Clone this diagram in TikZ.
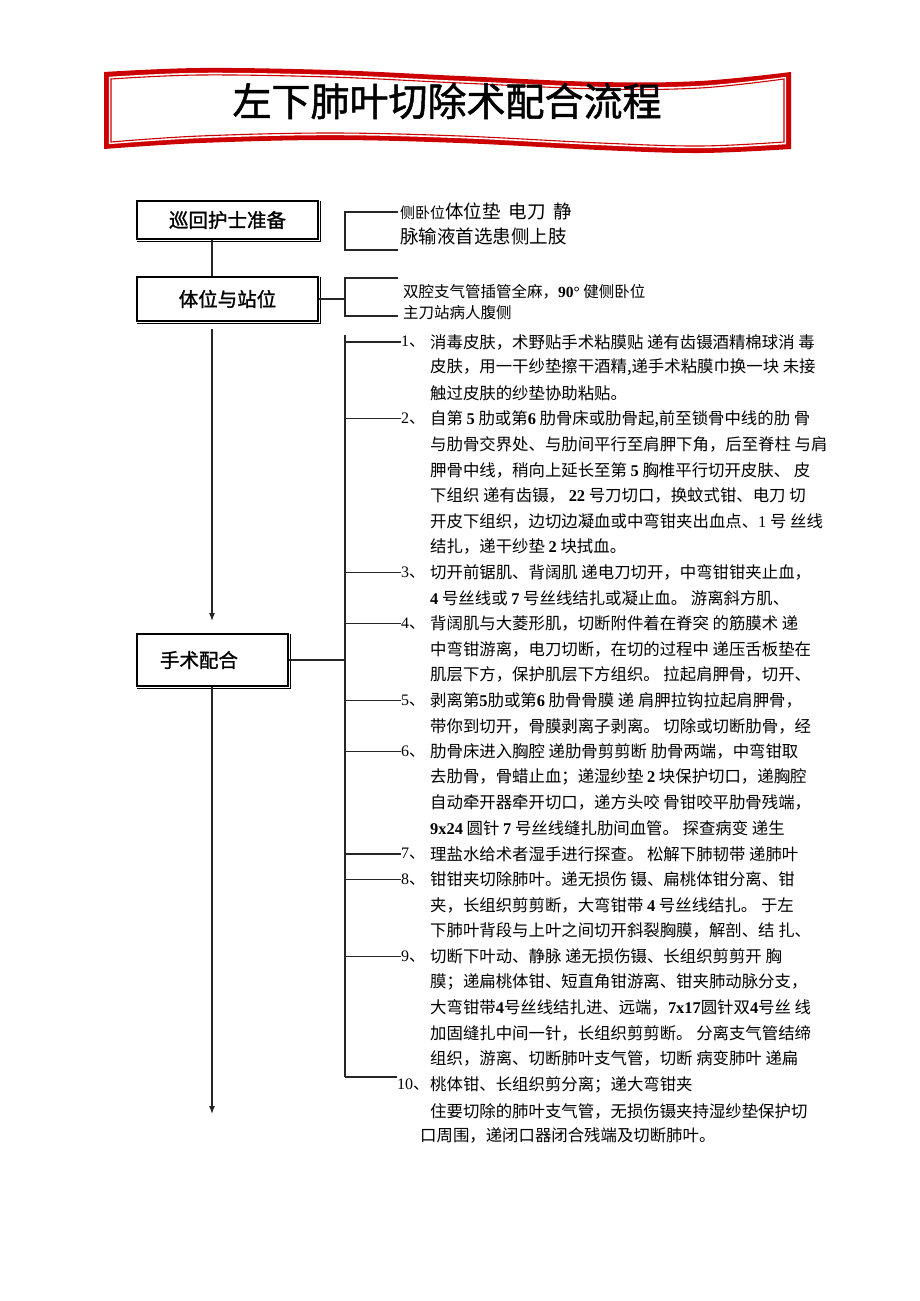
\documentclass[tikz,border=0pt]{standalone}
\usepackage{fontspec}
\usetikzlibrary{arrows.meta,calc}
\setmainfont{Liberation Serif}
\newfontfamily\cjk{Noto Sans CJK SC}
\newfontfamily\cjkm{Noto Sans CJK SC}[FakeBold=1.3]
\newfontfamily\serifen{Liberation Serif}
\newcommand\B[1]{{\serifen\bfseries #1}}
\newcommand\R[1]{{\serifen #1}}
\definecolor{bannerred}{RGB}{204,0,0}
\newcommand\bannerpath[1]{plot[smooth,tension=0.6] coordinates {(104+#1,72+#1) (200,68+#1) (330,70+#1) (460,76+#1) (600,82+#1) (700,81+#1) (791-#1,72+#1)} -- plot[smooth,tension=0.6] coordinates {(791-#1,149-#1) (700,153-#1) (600,150-#1) (460,143-#1) (330,140-#1) (200,143-#1) (104+#1,149-#1)} -- cycle}
\tikzset{
  box/.style={draw, line width=2pt, inner sep=0pt, font=\cjkm\fontsize{19.5}{19.5}\selectfont},
  body/.style={anchor=west, inner sep=0pt, font=\cjk\fontsize{16.4}{16.4}\selectfont},
  num/.style={anchor=west, inner sep=0pt, font=\cjk\fontsize{16}{16}\selectfont},
  side/.style={anchor=west, inner sep=0pt, font=\cjk\fontsize{15.5}{15.5}\selectfont},
  sidebig/.style={anchor=west, inner sep=0pt, font=\cjk\fontsize{18.5}{18.5}\selectfont},
  conn/.style={line width=1.1pt, draw=black!85},
  arr/.style={conn, -{Latex[length=8pt,width=6pt]}},
  titletext/.style={inner sep=0pt, font=\cjkm\fontsize{39}{39}\selectfont},
  shade/.style={line width=1.3pt, draw=black}
}
\begin{document}
\begin{tikzpicture}[x=1pt,y=-1pt]
\useasboundingbox (0,0) rectangle (920,1301);
\fill[white] (0,0) rectangle (920,1301);

% banner
\fill[bannerred] \bannerpath{0};
\fill[white] \bannerpath{4.8};
\draw[bannerred, line width=1.1pt] \bannerpath{7};
\node[titletext] (ttl) at (447,101) {左下肺叶切除术配合流程};

% boxes
\node[box, minimum width=181pt, minimum height=38pt] (b1) at (227.5,220) {巡回护士准备};
\node[box, minimum width=181pt, minimum height=44pt] (b2) at (227.5,299) {体位与站位};
\node[box, minimum width=151pt, minimum height=52pt] (b3) at (212.5,660) {手术配合\hspace*{27pt}};
\foreach \b in {b1,b2,b3}{
  \draw[shade] ([shift={(1.6pt,-0.5pt)}]\b.north east) -- ([shift={(1.6pt,-1.6pt)}]\b.south east) -- ([shift={(0.5pt,-1.6pt)}]\b.south west);
}

% vertical flow
\coordinate (vx) at (212,0);
\coordinate (end3) at (212,1114);
\draw[conn] (b1.south -| vx) -- (b2.north -| vx);
\draw[arr, shorten <=7pt, shorten >=12pt] (b2.south -| vx) -- (b3.north -| vx);
\draw[arr] (b3.south -| vx) -- (end3);

% side texts
\node[sidebig] (t1a) at (400,211) {{\fontsize{15}{15}\selectfont 侧卧位}体位垫\hspace{8pt}电刀\hspace{8pt}静};
\node[sidebig] (t1b) at (400,236) {脉输液首选患侧上肢};
\node[side] (t2a) at (403,292) {双腔支气管插管全麻，\B{90°} 健侧卧位};
\node[side] (t2b) at (403,313) {主刀站病人腹侧};

% brackets for top boxes
\coordinate (k1a) at (398,212);
\coordinate (k1b) at (398,250);
\draw[conn] (k1a) -- (345,212) -- (345,250) -- (k1b);
\coordinate (k2a) at (398,278);
\coordinate (k2b) at (398,316);
\coordinate (k2m) at (345,299);
\draw[conn] (k2a) -- (345,278) -- (345,316) -- (k2b);
\draw[conn] (b2.east) -- (k2m);

% main bracket
\coordinate (busTop) at (345,335);
\coordinate (busBot) at (345,1077);
\draw[conn] (b3.east) -- (b3.east -| busTop);
\draw[conn] (busTop) -- (busBot);

% numbered labels
\node[num] (n1) at (401,342+25.6*0) {\R{1}、};
\node[num] (n2) at (401,342+25.6*3) {\R{2}、};
\node[num] (n3) at (401,342+25.6*9) {\R{3}、};
\node[num] (n4) at (401,342+25.6*11) {\R{4}、};
\node[num] (n5) at (401,342+25.6*14) {\R{5}、};
\node[num] (n6) at (401,342+25.6*16) {\R{6}、};
\node[num] (n7) at (401,342+25.6*20) {\R{7}、};
\node[num] (n8) at (401,342+25.6*21) {\R{8}、};
\node[num] (n9) at (401,342+25.6*24) {\R{9}、};
\node[num] (n10) at (397,342+25.6*29) {\R{10}、};
\foreach \n in {1,...,9}{
  \draw[conn] (n\n.west -| busTop) -- (n\n.west);
}
\draw[conn] (busBot) -- (busBot -| n10.west);

% body lines
\node[body] (l0) at (430,342+25.6*0) {消毒皮肤，术野贴手术粘膜贴 递有齿镊酒精棉球消 毒};
\node[body] (l1) at (430,342+25.6*1) {皮肤，用一干纱垫擦干酒精,递手术粘膜巾换一块 未接};
\node[body] (l2) at (430,342+25.6*2) {触过皮肤的纱垫协助粘贴。};
\node[body] (l3) at (430,342+25.6*3) {自第 \B{5} 肋或第\B{6} 肋骨床或肋骨起,前至锁骨中线的肋 骨};
\node[body] (l4) at (430,342+25.6*4) {与肋骨交界处、与肋间平行至肩胛下角，后至脊柱 与肩};
\node[body] (l5) at (430,342+25.6*5) {胛骨中线，稍向上延长至第 \B{5} 胸椎平行切开皮肤、 皮};
\node[body] (l6) at (430,342+25.6*6) {下组织 递有齿镊， \B{22} 号刀切口，换蚊式钳、电刀 切};
\node[body] (l7) at (430,342+25.6*7) {开皮下组织，边切边凝血或中弯钳夹出血点、\R{1} 号 丝线};
\node[body] (l8) at (430,342+25.6*8) {结扎，递干纱垫 \B{2} 块拭血。};
\node[body] (l9) at (430,342+25.6*9) {切开前锯肌、背阔肌 递电刀切开，中弯钳钳夹止血，};
\node[body] (l10) at (430,342+25.6*10) {\B{4} 号丝线或 \B{7} 号丝线结扎或凝止血。 游离斜方肌、};
\node[body] (l11) at (430,342+25.6*11) {背阔肌与大菱形肌，切断附件着在脊突 的筋膜术 递};
\node[body] (l12) at (430,342+25.6*12) {中弯钳游离，电刀切断，在切的过程中 递压舌板垫在};
\node[body] (l13) at (430,342+25.6*13) {肌层下方，保护肌层下方组织。 拉起肩胛骨，切开、};
\node[body] (l14) at (430,342+25.6*14) {剥离第\B{5}肋或第\B{6} 肋骨骨膜 递 肩胛拉钩拉起肩胛骨，};
\node[body] (l15) at (430,342+25.6*15) {带你到切开，骨膜剥离子剥离。 切除或切断肋骨，经};
\node[body] (l16) at (430,342+25.6*16) {肋骨床进入胸腔 递肋骨剪剪断 肋骨两端，中弯钳取};
\node[body] (l17) at (430,342+25.6*17) {去肋骨，骨蜡止血；递湿纱垫 \B{2} 块保护切口，递胸腔};
\node[body] (l18) at (430,342+25.6*18) {自动牵开器牵开切口，递方头咬 骨钳咬平肋骨残端，};
\node[body] (l19) at (430,342+25.6*19) {\B{9x24} 圆针 \B{7} 号丝线缝扎肋间血管。 探查病变 递生};
\node[body] (l20) at (430,342+25.6*20) {理盐水给术者湿手进行探查。 松解下肺韧带 递肺叶};
\node[body] (l21) at (430,342+25.6*21) {钳钳夹切除肺叶。递无损伤 镊、扁桃体钳分离、钳};
\node[body] (l22) at (430,342+25.6*22) {夹，长组织剪剪断，大弯钳带 \B{4} 号丝线结扎。 于左};
\node[body] (l23) at (430,342+25.6*23) {下肺叶背段与上叶之间切开斜裂胸膜，解剖、结 扎、};
\node[body] (l24) at (430,342+25.6*24) {切断下叶动、静脉 递无损伤镊、长组织剪剪开 胸};
\node[body] (l25) at (430,342+25.6*25) {膜；递扁桃体钳、短直角钳游离、钳夹肺动脉分支，};
\node[body] (l26) at (430,342+25.6*26) {大弯钳带\B{4}号丝线结扎进、远端，\B{7x17}圆针双\B{4}号丝 线};
\node[body] (l27) at (430,342+25.6*27) {加固缝扎中间一针，长组织剪剪断。 分离支气管结缔};
\node[body] (l28) at (430,342+25.6*28) {组织，游离、切断肺叶支气管，切断 病变肺叶 递扁};
\node[body] (l29) at (430,342+25.6*29) {桃体钳、长组织剪分离；递大弯钳夹};
\node[body] (l30) at (430,1111) {住要切除的肺叶支气管，无损伤镊夹持湿纱垫保护切};
\node[body] (l31) at (420,1135) {口周围，递闭口器闭合残端及切断肺叶。};
\end{tikzpicture}
\end{document}
